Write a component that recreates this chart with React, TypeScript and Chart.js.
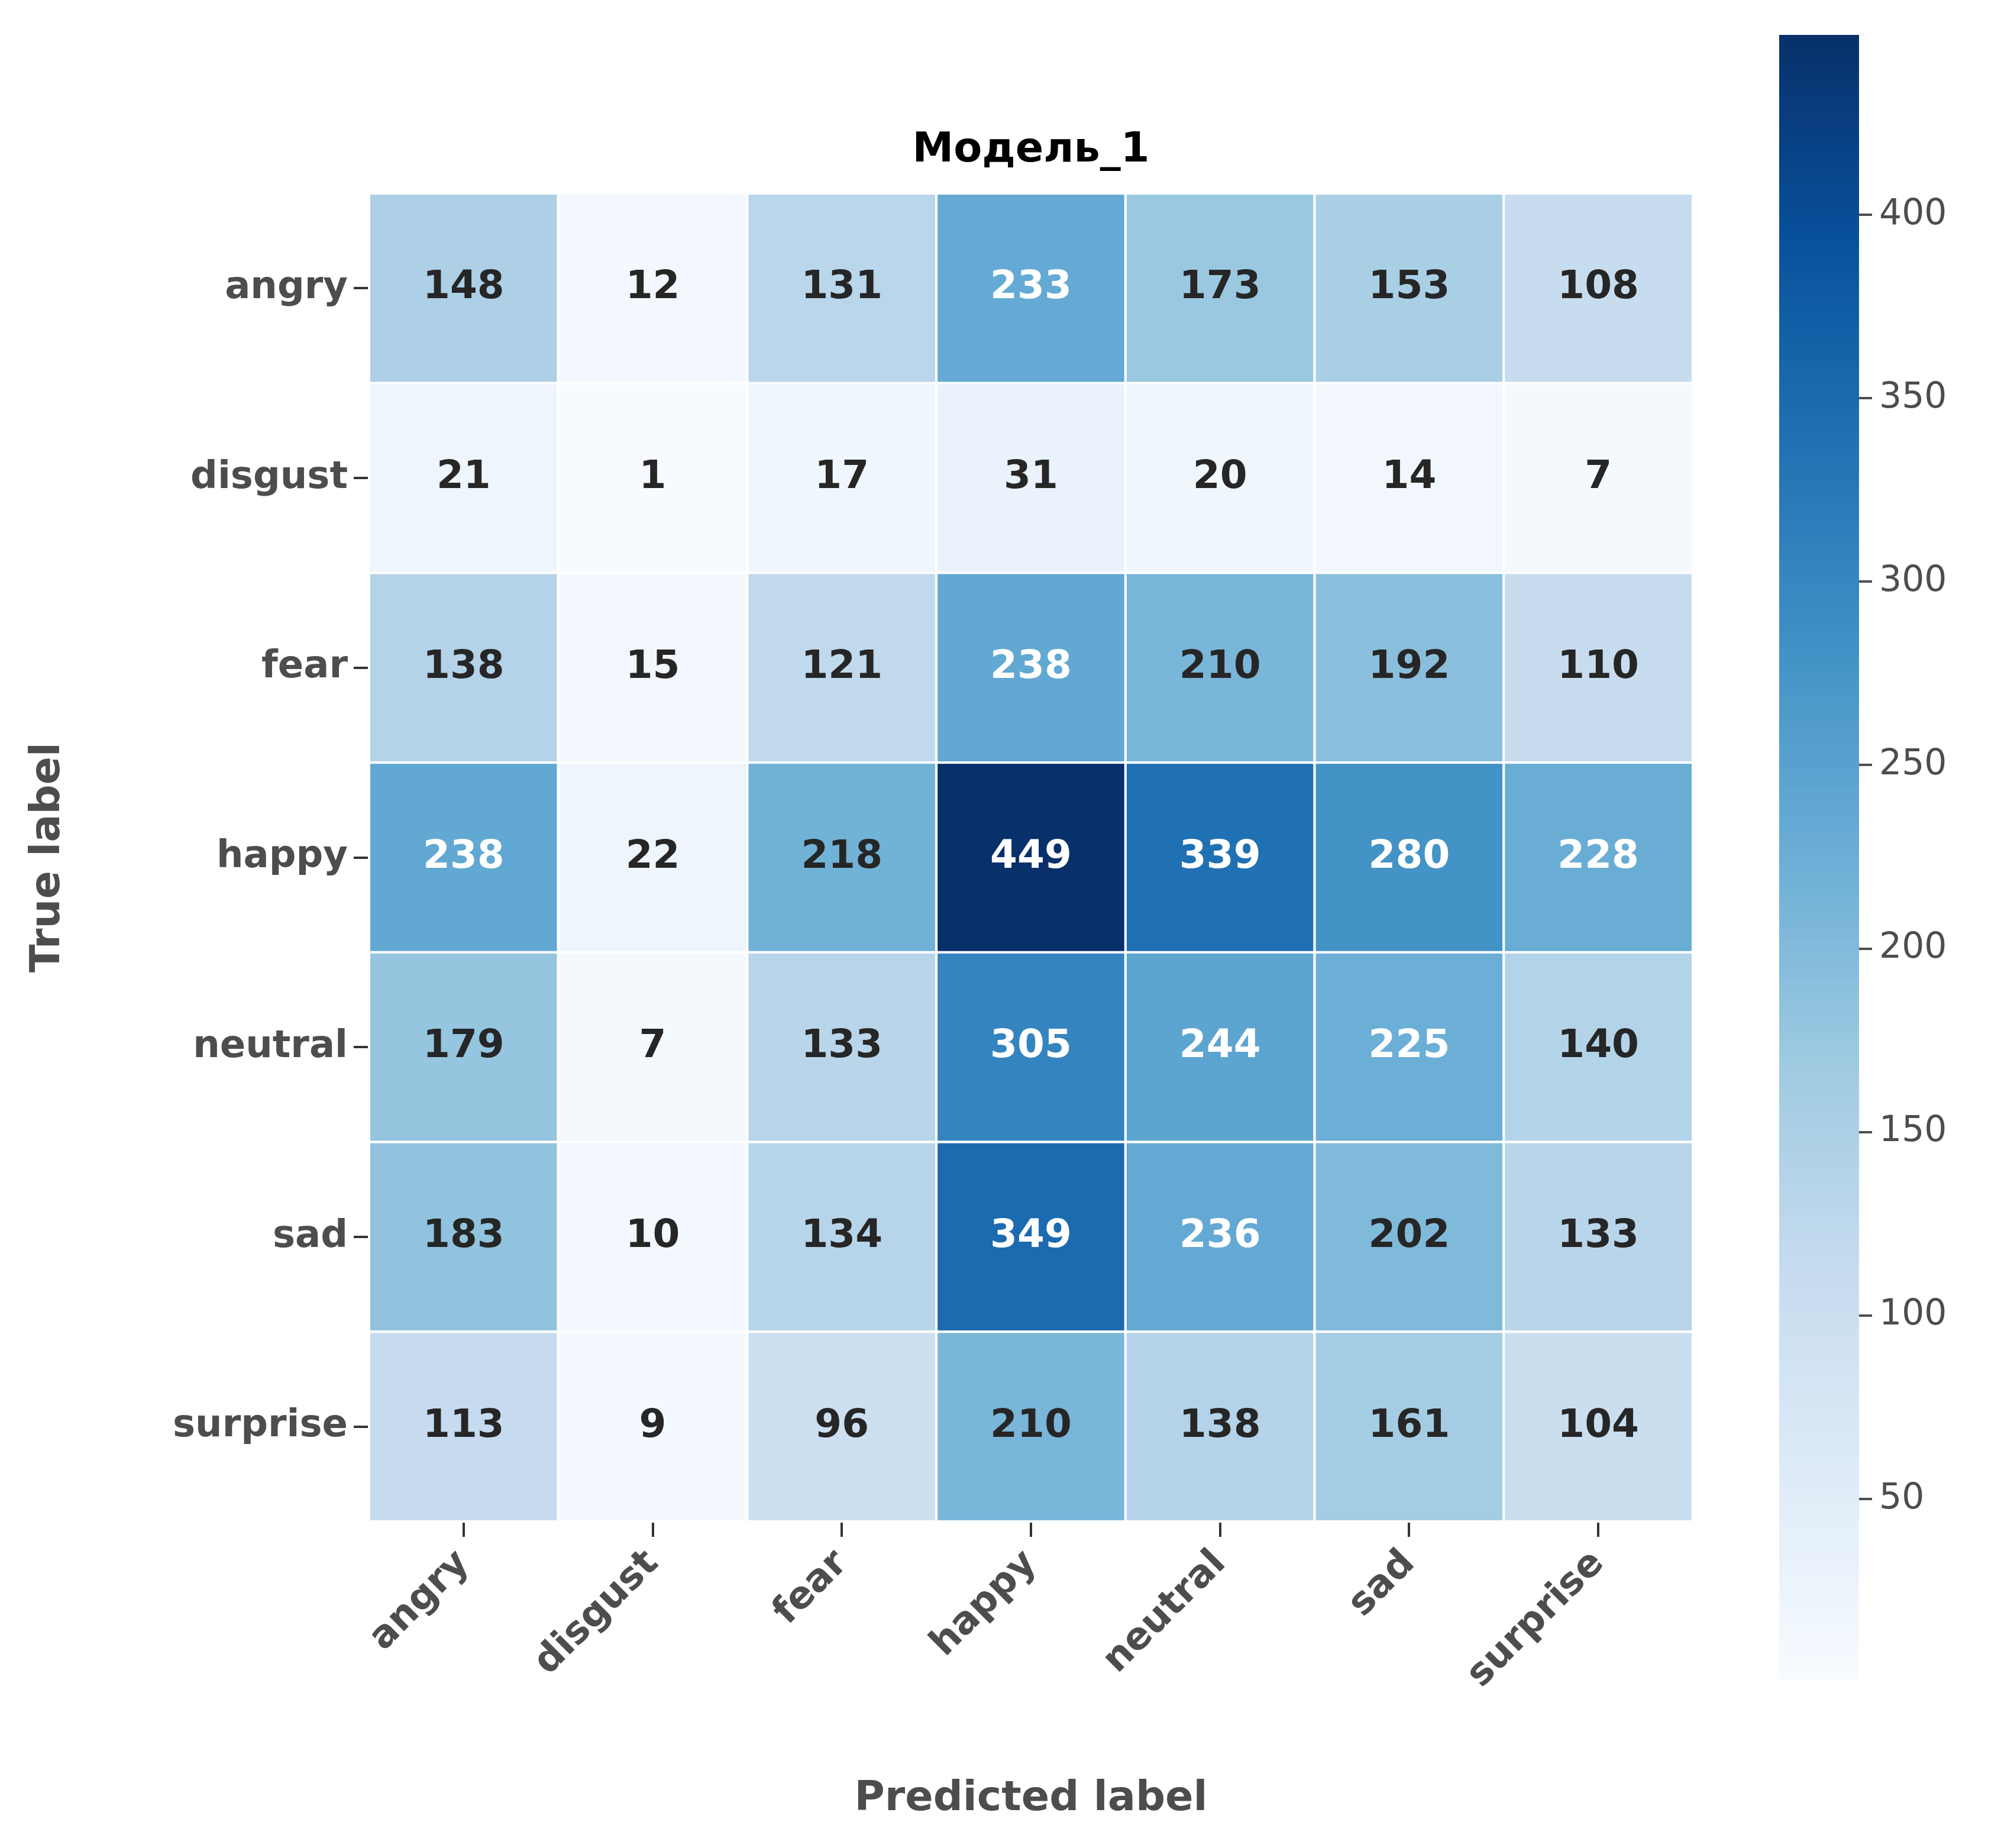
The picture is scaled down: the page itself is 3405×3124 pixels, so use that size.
import { useEffect, useRef } from "react"
import { Chart, registerables } from "chart.js"

Chart.register(...registerables)

const labels = ["angry", "disgust", "fear", "happy", "neutral", "sad", "surprise"]
const matrix = [
  [148, 12, 131, 233, 173, 153, 108],
  [21, 1, 17, 31, 20, 14, 7],
  [138, 15, 121, 238, 210, 192, 110],
  [238, 22, 218, 449, 339, 280, 228],
  [179, 7, 133, 305, 244, 225, 140],
  [183, 10, 134, 349, 236, 202, 133],
  [113, 9, 96, 210, 138, 161, 104],
]
const vmin = 1
const vmax = 449
const cbTicks = [50, 100, 150, 200, 250, 300, 350, 400]

const blues = ["#f7fbff", "#deebf7", "#c6dbef", "#9ecae1", "#6baed6", "#4292c6", "#2171b5", "#08519c", "#08306b"]

function hex(c: string) {
  return [1, 3, 5].map((i) => parseInt(c.slice(i, i + 2), 16))
}

function colorFor(v: number) {
  const t = Math.min(1, Math.max(0, (v - vmin) / (vmax - vmin))) * (blues.length - 1)
  const i = Math.min(blues.length - 2, Math.floor(t))
  const f = t - i
  const a = hex(blues[i])
  const b = hex(blues[i + 1])
  const m = a.map((x, k) => Math.round(x + (b[k] - x) * f))
  return `rgb(${m[0]},${m[1]},${m[2]})`
}

const font = "'DejaVu Sans', sans-serif"

export default function App() {
  const mainRef = useRef<HTMLCanvasElement | null>(null)
  const cbRef = useRef<HTMLCanvasElement | null>(null)

  useEffect(() => {
    document.body.style.margin = "0"
    if (!mainRef.current || !cbRef.current) return

    const cells = {
      id: "cells",
      beforeDatasetsDraw(chart: any) {
        const { ctx, scales } = chart
        const x = scales.x
        const y = scales.y
        const w = x.getPixelForValue(1) - x.getPixelForValue(0)
        const h = y.getPixelForValue(1) - y.getPixelForValue(0)
        ctx.save()
        matrix.forEach((row, r) => {
          row.forEach((v, c) => {
            const cx = x.getPixelForValue(c)
            const cy = y.getPixelForValue(r)
            ctx.fillStyle = colorFor(v)
            ctx.fillRect(cx - w / 2, cy - h / 2, w, h)
            ctx.strokeStyle = "#ffffff"
            ctx.lineWidth = 4
            ctx.strokeRect(cx - w / 2, cy - h / 2, w, h)
            ctx.fillStyle = v > 224 ? "#ffffff" : "#262626"
            ctx.font = `bold 66px ${font}`
            ctx.textAlign = "center"
            ctx.textBaseline = "middle"
            ctx.fillText(String(v), cx, cy)
          })
        })
        ctx.fillStyle = "#000000"
        ctx.font = `bold 70px ${font}`
        ctx.textAlign = "center"
        ctx.fillText("Модель_1", (chart.chartArea.left + chart.chartArea.right) / 2, 255)
        ctx.restore()
      },
    }

    const tickStyle = { color: "#4d4d4d", font: { family: font, size: 64, weight: "bold" as const } }

    const main = new Chart(mainRef.current, {
      type: "scatter",
      data: { datasets: [{ data: [] }] },
      options: {
        animation: false,
        responsive: false,
        plugins: { legend: { display: false }, tooltip: { enabled: false } },
        layout: { padding: { left: 0, top: 327, right: 88, bottom: 0 } },
        scales: {
          x: {
            type: "linear",
            min: -0.5,
            max: 6.5,
            afterBuildTicks: (s: any) => { s.ticks = labels.map((_, i) => ({ value: i })) },
            afterFit: (s: any) => { s.height = 552 },
            grid: { drawOnChartArea: false, tickLength: 26, color: "#333333", lineWidth: 4 },
            border: { display: false },
            ticks: { ...tickStyle, minRotation: 45, maxRotation: 45, padding: 8, callback: (v: any) => labels[v] ?? "" },
            title: { display: true, text: "Predicted label", color: "#4d4d4d", font: { family: font, size: 70, weight: "bold" }, padding: { top: 0, bottom: 40 } },
          },
          y: {
            type: "linear",
            min: -0.5,
            max: 6.5,
            reverse: true,
            afterBuildTicks: (s: any) => { s.ticks = labels.map((_, i) => ({ value: i })) },
            afterFit: (s: any) => { s.width = 624 },
            grid: { drawOnChartArea: false, tickLength: 26, color: "#333333", lineWidth: 4 },
            border: { display: false },
            ticks: { ...tickStyle, padding: 10, callback: (v: any) => labels[v] ?? "" },
            title: { display: true, text: "True label", color: "#4d4d4d", font: { family: font, size: 70, weight: "bold" }, padding: { top: 40, bottom: 0 } },
          },
        },
      },
      plugins: [cells],
    })

    const gradient = {
      id: "gradient",
      beforeDatasetsDraw(chart: any) {
        const { ctx, chartArea, scales } = chart
        ctx.save()
        const steps = 256
        for (let i = 0; i < steps; i++) {
          const v0 = vmin + ((vmax - vmin) * i) / steps
          const v1 = vmin + ((vmax - vmin) * (i + 1)) / steps
          const y0 = scales.y.getPixelForValue(v0)
          const y1 = scales.y.getPixelForValue(v1)
          ctx.fillStyle = colorFor((v0 + v1) / 2)
          ctx.fillRect(chartArea.left, y1, chartArea.right - chartArea.left, y0 - y1 + 1)
        }
        ctx.restore()
      },
    }

    const cb = new Chart(cbRef.current, {
      type: "scatter",
      data: { datasets: [{ data: [] }] },
      options: {
        animation: false,
        responsive: false,
        plugins: { legend: { display: false }, tooltip: { enabled: false } },
        layout: { padding: { left: 58, top: 59, right: 0, bottom: 286 } },
        scales: {
          x: { display: false, min: 0, max: 1 },
          y: {
            type: "linear",
            position: "right",
            min: vmin,
            max: vmax,
            afterBuildTicks: (s: any) => { s.ticks = cbTicks.map((v) => ({ value: v })) },
            afterFit: (s: any) => { s.width = 262 },
            grid: { drawOnChartArea: false, tickLength: 22, color: "#4d4d4d", lineWidth: 4 },
            border: { display: false },
            ticks: { color: "#4d4d4d", padding: 12, font: { family: font, size: 60 } },
          },
        },
      },
      plugins: [gradient],
    })

    return () => {
      main.destroy()
      cb.destroy()
    }
  }, [])

  return (
    <div style={{ position: "relative", width: 3405, height: 3124, background: "#ffffff" }}>
      <canvas ref={mainRef} width={2950} height={3124} style={{ position: "absolute", left: 0, top: 0, width: 2950, height: 3124 }} />
      <canvas ref={cbRef} width={455} height={3124} style={{ position: "absolute", left: 2950, top: 0, width: 455, height: 3124 }} />
    </div>
  )
}
